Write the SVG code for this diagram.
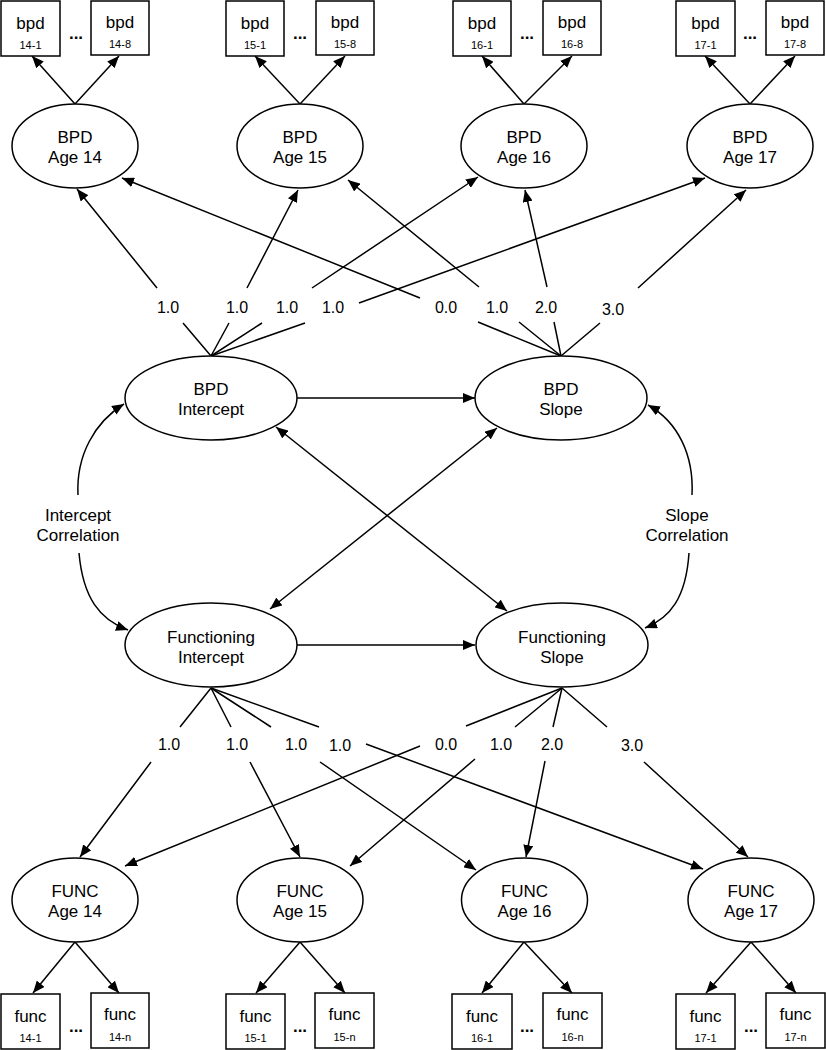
<svg xmlns="http://www.w3.org/2000/svg" width="826" height="1050" viewBox="0 0 826 1050">
<style>
  text { font-family: "Liberation Sans", Arial, sans-serif; fill: #000; text-anchor: middle; }
  .big { font-size: 17px; }
  .sub { font-size: 11px; }
  .lbl { font-size: 16px; }
  .dots { font-size: 17px; font-weight: bold; }
  .shape { fill: #fff; stroke: #000; stroke-width: 1.5; }
  .edge { fill: none; stroke: #000; stroke-width: 1.5; marker-end: url(#ah); }
  .bi { fill: none; stroke: #000; stroke-width: 1.5; marker-end: url(#ah); marker-start: url(#ah); }
</style>
<defs>
  <marker id="ah" markerUnits="userSpaceOnUse" markerWidth="13" markerHeight="10" refX="12" refY="5" orient="auto-start-reverse">
    <path d="M0,0 L12,5 L0,10 z" fill="#000"/>
  </marker>
</defs>
<rect width="826" height="1050" fill="#fff"/>

<g id="connectors">
  <!-- BPD age to items -->
  <path class="edge" d="M75,104 L32,56"/>
  <path class="edge" d="M75,104 L119,56"/>
  <path class="edge" d="M300,104 L255,56"/>
  <path class="edge" d="M300,104 L345,56"/>
  <path class="edge" d="M524,104 L482,56"/>
  <path class="edge" d="M524,104 L572,56"/>
  <path class="edge" d="M750,104 L705,56"/>
  <path class="edge" d="M750,104 L795,56"/>
  <!-- BPD intercept loadings -->
  <path class="edge" d="M211,356 L183,323 M157,288 L77,189"/>
  <path class="edge" d="M211,356 L229,323 M247,288 L298,190"/>
  <path class="edge" d="M211,356 L262,323 M312,288 L478,177"/>
  <path class="edge" d="M211,356 L305,323 M359,303 L705,178"/>
  <!-- BPD slope loadings -->
  <path class="edge" d="M561,356 L478,322 M420,298 L122,178"/>
  <path class="edge" d="M561,356 L519,322 M479,287 L348,180"/>
  <path class="edge" d="M561,356 L554,322 M547,287 L525,190"/>
  <path class="edge" d="M561,356 L600,323 M638,288 L746,190"/>
  <!-- middle -->
  <path class="edge" d="M297,398 L475,398"/>
  <path class="edge" d="M297,645 L475,645"/>
  <path class="bi" d="M276,427 L507,611"/>
  <path class="bi" d="M497,428 L270,609"/>
  <path class="edge" d="M78,495 C76,455 95,422 124,404"/>
  <path class="edge" d="M79,553 C83,598 100,620 128,630"/>
  <path class="edge" d="M692,495 C694,455 678,422 648,405"/>
  <path class="edge" d="M689,553 C686,598 670,618 645,628"/>
  <!-- Functioning intercept loadings -->
  <path class="edge" d="M211,688 L180,727 M151,762 L80,857"/>
  <path class="edge" d="M211,688 L231,727 M250,762 L300,857"/>
  <path class="edge" d="M211,688 L271,727 M320,762 L476,870"/>
  <path class="edge" d="M211,688 L319,727 M366,744 L703,869"/>
  <!-- Functioning slope loadings -->
  <path class="edge" d="M562,688 L466,726 M420,746 L125,866"/>
  <path class="edge" d="M562,688 L515,727 M475,759 L350,866"/>
  <path class="edge" d="M562,688 L553,727 M545,761 L526,857"/>
  <path class="edge" d="M562,688 L607,727 M644,762 L748,857"/>
  <!-- FUNC age to items -->
  <path class="edge" d="M75,942 L33,993"/>
  <path class="edge" d="M75,942 L119,993"/>
  <path class="edge" d="M300,942 L256,993"/>
  <path class="edge" d="M300,942 L345,993"/>
  <path class="edge" d="M524,942 L482,993"/>
  <path class="edge" d="M524,942 L572,993"/>
  <path class="edge" d="M751,942 L706,993"/>
  <path class="edge" d="M751,942 L796,993"/>
</g>

<g id="labels">
  <text class="lbl" x="168" y="313">1.0</text>
  <text class="lbl" x="237" y="313">1.0</text>
  <text class="lbl" x="287" y="313">1.0</text>
  <text class="lbl" x="333" y="313">1.0</text>
  <text class="lbl" x="446" y="313">0.0</text>
  <text class="lbl" x="497" y="313">1.0</text>
  <text class="lbl" x="546" y="313">2.0</text>
  <text class="lbl" x="613" y="315">3.0</text>
  <text class="lbl" x="169" y="750">1.0</text>
  <text class="lbl" x="237" y="750">1.0</text>
  <text class="lbl" x="296" y="750">1.0</text>
  <text class="lbl" x="340" y="751">1.0</text>
  <text class="lbl" x="446" y="750">0.0</text>
  <text class="lbl" x="501" y="750">1.0</text>
  <text class="lbl" x="552" y="750">2.0</text>
  <text class="lbl" x="632" y="751">3.0</text>
  <text class="big" x="78" y="521">Intercept</text>
  <text class="big" x="78" y="541">Correlation</text>
  <text class="big" x="687" y="521">Slope</text>
  <text class="big" x="687" y="541">Correlation</text>
  <text class="dots" x="76" y="39">...</text>
  <text class="dots" x="300" y="39">...</text>
  <text class="dots" x="527" y="39">...</text>
  <text class="dots" x="750" y="39">...</text>
  <text class="dots" x="76" y="1032">...</text>
  <text class="dots" x="300" y="1032">...</text>
  <text class="dots" x="527" y="1032">...</text>
  <text class="dots" x="751" y="1032">...</text>
</g>

<!-- BPD items -->
<g id="bpd14-1"><rect class="shape" x="1" y="1" width="59" height="55"/><text class="big" x="30.5" y="29">bpd</text><text class="sub" x="30.5" y="49">14-1</text></g>
<g id="bpd14-8"><rect class="shape" x="91" y="1" width="58" height="54"/><text class="big" x="120" y="28">bpd</text><text class="sub" x="120" y="48">14-8</text></g>
<g id="bpd15-1"><rect class="shape" x="226" y="1" width="58" height="55"/><text class="big" x="255" y="29">bpd</text><text class="sub" x="255" y="49">15-1</text></g>
<g id="bpd15-8"><rect class="shape" x="316" y="1" width="58" height="54"/><text class="big" x="345" y="28">bpd</text><text class="sub" x="345" y="48">15-8</text></g>
<g id="bpd16-1"><rect class="shape" x="453" y="1" width="58" height="55"/><text class="big" x="482" y="29">bpd</text><text class="sub" x="482" y="49">16-1</text></g>
<g id="bpd16-8"><rect class="shape" x="543" y="1" width="58" height="54"/><text class="big" x="572" y="28">bpd</text><text class="sub" x="572" y="48">16-8</text></g>
<g id="bpd17-1"><rect class="shape" x="676" y="1" width="59" height="55"/><text class="big" x="705.5" y="29">bpd</text><text class="sub" x="705.5" y="49">17-1</text></g>
<g id="bpd17-8"><rect class="shape" x="766" y="1" width="58" height="54"/><text class="big" x="795" y="28">bpd</text><text class="sub" x="795" y="48">17-8</text></g>

<!-- BPD ages -->
<g id="bpd-age14"><ellipse class="shape" cx="75" cy="146" rx="63" ry="42"/><text class="big" x="75" y="143">BPD</text><text class="big" x="75" y="163">Age 14</text></g>
<g id="bpd-age15"><ellipse class="shape" cx="300" cy="146" rx="63" ry="42"/><text class="big" x="300" y="143">BPD</text><text class="big" x="300" y="163">Age 15</text></g>
<g id="bpd-age16"><ellipse class="shape" cx="524" cy="146" rx="63" ry="42"/><text class="big" x="524" y="143">BPD</text><text class="big" x="524" y="163">Age 16</text></g>
<g id="bpd-age17"><ellipse class="shape" cx="750" cy="146" rx="63" ry="42"/><text class="big" x="750" y="143">BPD</text><text class="big" x="750" y="163">Age 17</text></g>

<!-- growth factors -->
<g id="bpd-intercept"><ellipse class="shape" cx="211" cy="398" rx="86" ry="42"/><text class="big" x="211" y="395">BPD</text><text class="big" x="211" y="415">Intercept</text></g>
<g id="bpd-slope"><ellipse class="shape" cx="561" cy="398" rx="86" ry="42"/><text class="big" x="561" y="395">BPD</text><text class="big" x="561" y="415">Slope</text></g>
<g id="func-intercept"><ellipse class="shape" cx="211" cy="645" rx="86" ry="42"/><text class="big" x="211" y="643">Functioning</text><text class="big" x="211" y="663">Intercept</text></g>
<g id="func-slope"><ellipse class="shape" cx="562" cy="645" rx="86" ry="42"/><text class="big" x="562" y="643">Functioning</text><text class="big" x="562" y="663">Slope</text></g>

<!-- FUNC ages -->
<g id="func-age14"><ellipse class="shape" cx="75" cy="900" rx="63" ry="42"/><text class="big" x="75" y="897">FUNC</text><text class="big" x="75" y="917">Age 14</text></g>
<g id="func-age15"><ellipse class="shape" cx="300" cy="900" rx="63" ry="42"/><text class="big" x="300" y="897">FUNC</text><text class="big" x="300" y="917">Age 15</text></g>
<g id="func-age16"><ellipse class="shape" cx="524.5" cy="900" rx="63" ry="42"/><text class="big" x="524.5" y="897">FUNC</text><text class="big" x="524.5" y="917">Age 16</text></g>
<g id="func-age17"><ellipse class="shape" cx="751" cy="900" rx="63" ry="42"/><text class="big" x="751" y="897">FUNC</text><text class="big" x="751" y="917">Age 17</text></g>

<!-- FUNC items -->
<g id="func14-1"><rect class="shape" x="1" y="994" width="59" height="55"/><text class="big" x="30.5" y="1022">func</text><text class="sub" x="30.5" y="1042">14-1</text></g>
<g id="func14-n"><rect class="shape" x="91" y="993" width="58" height="55"/><text class="big" x="120" y="1020">func</text><text class="sub" x="120" y="1041">14-n</text></g>
<g id="func15-1"><rect class="shape" x="226" y="994" width="59" height="55"/><text class="big" x="255.5" y="1022">func</text><text class="sub" x="255.5" y="1042">15-1</text></g>
<g id="func15-n"><rect class="shape" x="315" y="993" width="59" height="55"/><text class="big" x="344.5" y="1020">func</text><text class="sub" x="344.5" y="1041">15-n</text></g>
<g id="func16-1"><rect class="shape" x="452" y="994" width="60" height="55"/><text class="big" x="482" y="1022">func</text><text class="sub" x="482" y="1042">16-1</text></g>
<g id="func16-n"><rect class="shape" x="543" y="993" width="59" height="55"/><text class="big" x="572.5" y="1020">func</text><text class="sub" x="572.5" y="1041">16-n</text></g>
<g id="func17-1"><rect class="shape" x="676" y="994" width="59" height="55"/><text class="big" x="705.5" y="1022">func</text><text class="sub" x="705.5" y="1042">17-1</text></g>
<g id="func17-n"><rect class="shape" x="766" y="993" width="59" height="55"/><text class="big" x="795.5" y="1020">func</text><text class="sub" x="795.5" y="1041">17-n</text></g>
</svg>
